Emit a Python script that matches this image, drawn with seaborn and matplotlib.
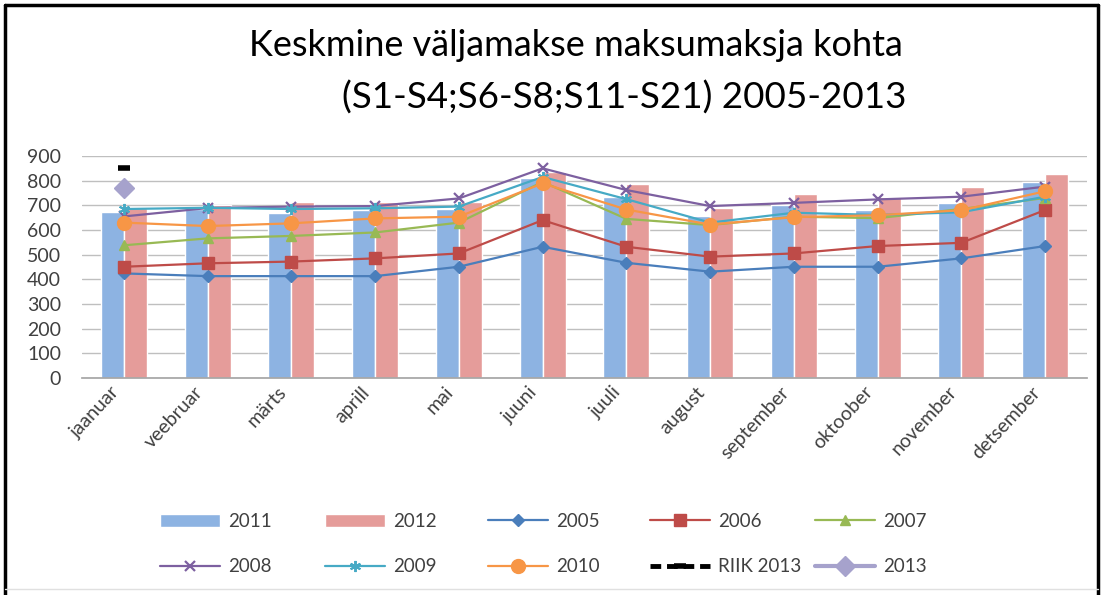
import numpy as np
import pandas as pd
import matplotlib
matplotlib.use("Agg")
import matplotlib.pyplot as plt
import matplotlib.transforms as mtrans
import seaborn as sns
from matplotlib.lines import Line2D

months = ['jaanuar', 'veebruar', 'märts', 'aprill', 'mai', 'juuni', 'juuli',
          'august', 'september', 'oktoober', 'november', 'detsember']
v2011 = [674, 685, 668, 681, 685, 810, 735, 658, 701, 681, 708, 796]
v2012 = [688, 702, 715, 715, 715, 835, 786, 689, 745, 735, 776, 826]
v2005 = [424, 413, 413, 413, 451, 532, 467, 431, 451, 451, 485, 535]
v2006 = [451, 465, 472, 485, 505, 640, 532, 492, 505, 535, 548, 681]
v2007 = [538, 566, 576, 590, 630, 795, 645, 620, 654, 648, 685, 730]
v2008 = [655, 689, 695, 697, 728, 850, 762, 697, 710, 724, 735, 776]
v2009 = [685, 690, 685, 688, 695, 815, 725, 630, 670, 661, 672, 735]
v2010 = [630, 616, 627, 647, 654, 789, 683, 622, 652, 660, 680, 757]
riik2013 = [850] + [np.nan] * 11
v2013 = [769] + [np.nan] * 11
yticks = list(range(0, 1000, 100))

sns.set_theme(style="white")
plt.rcParams['font.family'] = ['Lato', 'DejaVu Sans']

fig = plt.figure(figsize=(11.04, 5.95), dpi=100)
W, H = 1104, 595
ax = fig.add_axes([82 / W, 1 - 378 / H, (1087 - 82) / W, (378 - 156) / H])

df = pd.DataFrame({'month': months * 2,
                   'year': ['2011'] * 12 + ['2012'] * 12,
                   'value': v2011 + v2012})
sns.barplot(data=df, x='month', y='value', hue='year', order=months,
            palette=['#8DB3E2', '#E59C9A'], width=0.55, saturation=1,
            errorbar=None, legend=False, ax=ax, zorder=2)

x = np.arange(len(months))
lw = 1.6
l2005, = ax.plot(x, v2005, color='#4A7EBB', marker='D', ms=6, lw=lw, zorder=3, label='2005')
l2006, = ax.plot(x, v2006, color='#BE4B48', marker='s', ms=8, lw=lw, zorder=3, label='2006')
l2007, = ax.plot(x, v2007, color='#98B954', marker='^', ms=7, lw=lw, zorder=3, label='2007')
l2008, = ax.plot(x, v2008, color='#7D60A0', marker='x', ms=7, mew=1.6, lw=lw, zorder=3, label='2008')
l2009, = ax.plot(x, v2009, color='#46AAC5', marker=(6, 2, 0), ms=8, mew=1.4, lw=lw, zorder=3, label='2009')
l2010, = ax.plot(x, v2010, color='#F79646', marker='o', ms=10, lw=lw, zorder=3, label='2010')
lriik, = ax.plot(x, riik2013, color='black', marker='_', ms=9, mew=4,
                 lw=3.5, ls=(0, (2.2, 1.2)), zorder=4, label='RIIK 2013')
l2013, = ax.plot(x, v2013, color='#A6A2CC', marker='D', ms=10, lw=3, zorder=4, label='2013')

ax.set_ylim(0, 900)
ax.set_xlim(-0.5, len(months) - 0.5)
ax.set_yticks(yticks)
ax.set_yticklabels([str(t) for t in yticks])
ax.set_xlabel('')
ax.set_ylabel('')
ax.grid(axis='y', color='#BFBFBF', lw=1, zorder=0)
ax.set_axisbelow(True)
for s in ['top', 'right', 'left']:
    ax.spines[s].set_visible(False)
ax.spines['bottom'].set_color('#A6A6A6')
ax.tick_params(axis='y', length=0, pad=15, labelsize=14, labelcolor='#404040')
ax.tick_params(axis='x', length=0, pad=8, labelsize=14, labelcolor='#404040')
shift = mtrans.ScaledTranslation(-8 / 100, 0, fig.dpi_scale_trans)
for lab in ax.get_xticklabels():
    lab.set_rotation(47)
    lab.set_ha('right')
    lab.set_va('center')
    lab.set_rotation_mode('anchor')
    lab.set_transform(lab.get_transform() + shift)

fig.text(576 / W, 1 - 45 / H, 'Keskmine väljamakse maksumaksja kohta',
         ha='center', va='center', fontsize=26, color='black')
fig.text(624 / W, 1 - 98 / H, '(S1-S4;S6-S8;S11-S21) 2005-2013',
         ha='center', va='center', fontsize=26.5, color='black')

bars = ax.containers
cols = [([bars[0], l2008], ['2011', '2008']),
        ([bars[1], l2009], ['2012', '2009']),
        ([l2005, l2010], ['2005', '2010']),
        ([l2006, lriik], ['2006', 'RIIK 2013']),
        ([l2007, l2013], ['2007', '2013'])]
xs = [160, 325, 488, 650, 815]
for (hs, ls), xp in zip(cols, xs):
    fig.legend(hs, ls, loc='upper left', bbox_to_anchor=(xp / W, 1 - 513 / H),
               frameon=False, borderpad=0, borderaxespad=0, handlelength=3.2,
               handletextpad=0.45, labelspacing=1.5, fontsize=13.5,
               labelcolor='#404040')

# chart frame
fig.add_artist(Line2D([5 / W, 5 / W], [0, 1 - 5 / H], color='black', lw=2.5, transform=fig.transFigure))
fig.add_artist(Line2D([5 / W, 1098 / W], [1 - 5 / H, 1 - 5 / H], color='black', lw=2.5, transform=fig.transFigure))
fig.add_artist(Line2D([1098 / W, 1098 / W], [0, 1 - 5 / H], color='black', lw=2.5, transform=fig.transFigure))
fig.add_artist(Line2D([5 / W, 1098 / W], [1 - 589 / H, 1 - 589 / H], color='#E0E0E0', lw=1, transform=fig.transFigure))

fig.savefig('out.png', dpi=100)
